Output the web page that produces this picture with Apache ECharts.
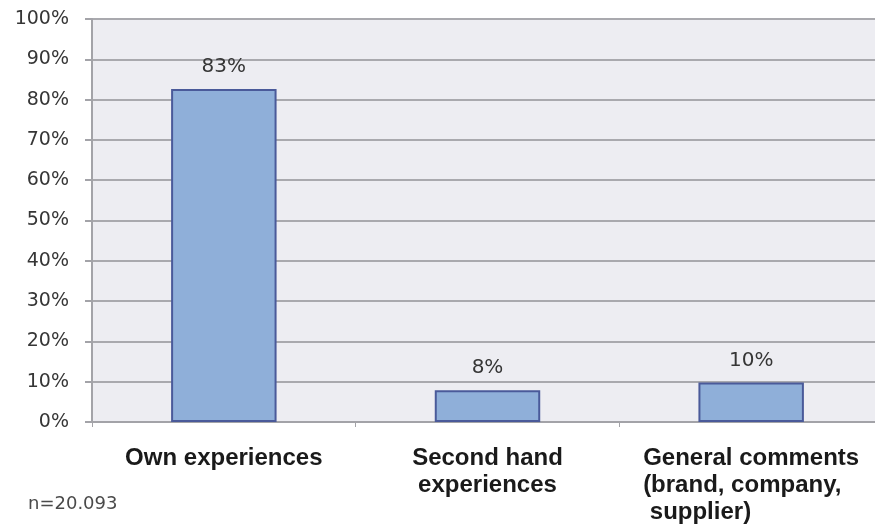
<!DOCTYPE html>
<html>
<head>
<meta charset="utf-8">
<script src="https://cdn.jsdelivr.net/npm/echarts@6/dist/echarts.min.js"></script>
<style>html,body{margin:0;padding:0;background:#fff}#c{width:875px;height:527px}</style>
</head>
<body>
<div id="c"></div>
<script>
var categories = ['Own experiences', 'Second hand\nexperiences', 'General comments\n(brand, company,\n supplier)'];
var values = [82.6, 7.9, 9.8];
var yTicks = [0, 100, 10];
var note = 'n=20.093';

var chart = echarts.init(document.getElementById('c'), null, {renderer: 'canvas'});
chart.setOption({
  animation: false,
  backgroundColor: '#ffffff',
  grid: {left: 92, width: 791, top: 19, bottom: 105, show: true, backgroundColor: '#EDEDF2', borderWidth: 0, containLabel: false, outerBoundsMode: 'none'},
  xAxis: {
    type: 'category',
    data: categories,
    axisLine: {show: true, lineStyle: {color: '#a3a3a8', width: 2}},
    axisTick: {show: true, length: 5, lineStyle: {color: '#a3a3a8', width: 1}},
    axisLabel: {
      interval: 0,
      margin: 23,
      color: '#1a1a1a',
      fontFamily: 'Liberation Sans',
      fontWeight: 'bold',
      fontSize: 24,
      lineHeight: 27,
      formatter: function (v, i) {
        if (i === 2) {
          return v.split('\n').map(function (l) { return '{l|' + l + '}'; }).join('\n');
        }
        return v;
      },
      rich: {
        l: {align: 'left', color: '#1a1a1a', fontFamily: 'Liberation Sans', fontWeight: 'bold', fontSize: 24, lineHeight: 27}
      }
    }
  },
  yAxis: {
    type: 'value',
    min: yTicks[0], max: yTicks[1], interval: yTicks[2],
    axisLine: {show: true, lineStyle: {color: '#a3a3a8', width: 2}},
    axisTick: {show: true, length: 7, lineStyle: {color: '#a3a3a8', width: 2}},
    splitLine: {show: true, lineStyle: {color: '#a9a9ae', width: 2}},
    axisLabel: {
      margin: 23,
      color: '#363636',
      fontFamily: 'DejaVu Sans',
      fontSize: 19,
      formatter: '{value}%'
    }
  },
  series: [{
    type: 'bar',
    data: values,
    barWidth: '40%',
    itemStyle: {color: '#8FAFD9', borderColor: '#4A5A9A', borderWidth: 2},
    label: {
      show: true,
      position: 'top',
      distance: 12,
      color: '#363636',
      fontFamily: 'DejaVu Sans',
      fontSize: 20,
      formatter: function (p) { return Math.round(p.value) + '%'; }
    }
  }],
  graphic: [{
    type: 'text',
    left: 28,
    top: 495,
    style: {text: note, fill: '#4a4a4a', font: '18px "DejaVu Sans"'}
  }]
});
</script>
</body>
</html>
